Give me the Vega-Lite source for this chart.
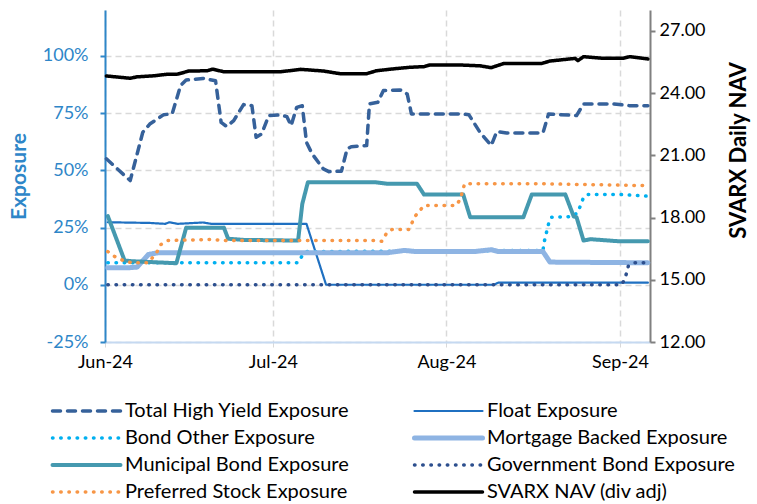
{
  "$schema": "https://vega.github.io/schema/vega-lite/v6.json",
  "width": 545,
  "height": 332,
  "autosize": {"type": "none"},
  "padding": {"left": 105, "top": 10, "right": 107, "bottom": 162},
  "background": "white",
  "config": {"font": "Lato", "view": {"stroke": null}},
  "data": {"values": [
    {"d": "2024-06-01T06:00", "s": "Total High Yield Exposure", "v": 0.55},
    {"d": "2024-06-05T12:00", "s": "Total High Yield Exposure", "v": 0.455},
    {"d": "2024-06-07T18:00", "s": "Total High Yield Exposure", "v": 0.666},
    {"d": "2024-06-09T00:00", "s": "Total High Yield Exposure", "v": 0.702},
    {"d": "2024-06-11T12:00", "s": "Total High Yield Exposure", "v": 0.743},
    {"d": "2024-06-13T00:00", "s": "Total High Yield Exposure", "v": 0.746},
    {"d": "2024-06-14T12:00", "s": "Total High Yield Exposure", "v": 0.87},
    {"d": "2024-06-15T12:00", "s": "Total High Yield Exposure", "v": 0.894},
    {"d": "2024-06-18T12:00", "s": "Total High Yield Exposure", "v": 0.901},
    {"d": "2024-06-20T18:00", "s": "Total High Yield Exposure", "v": 0.891},
    {"d": "2024-06-21T18:00", "s": "Total High Yield Exposure", "v": 0.709},
    {"d": "2024-06-22T18:00", "s": "Total High Yield Exposure", "v": 0.691},
    {"d": "2024-06-24T00:00", "s": "Total High Yield Exposure", "v": 0.717},
    {"d": "2024-06-25T18:00", "s": "Total High Yield Exposure", "v": 0.787},
    {"d": "2024-06-27T06:00", "s": "Total High Yield Exposure", "v": 0.782},
    {"d": "2024-06-28T00:00", "s": "Total High Yield Exposure", "v": 0.644},
    {"d": "2024-06-29T00:00", "s": "Total High Yield Exposure", "v": 0.659},
    {"d": "2024-06-30T06:00", "s": "Total High Yield Exposure", "v": 0.739},
    {"d": "2024-07-02T12:00", "s": "Total High Yield Exposure", "v": 0.742},
    {"d": "2024-07-03T12:00", "s": "Total High Yield Exposure", "v": 0.734},
    {"d": "2024-07-04T06:00", "s": "Total High Yield Exposure", "v": 0.695},
    {"d": "2024-07-05T06:00", "s": "Total High Yield Exposure", "v": 0.775},
    {"d": "2024-07-06T06:00", "s": "Total High Yield Exposure", "v": 0.782},
    {"d": "2024-07-07T00:00", "s": "Total High Yield Exposure", "v": 0.622},
    {"d": "2024-07-08T00:00", "s": "Total High Yield Exposure", "v": 0.572},
    {"d": "2024-07-10T00:00", "s": "Total High Yield Exposure", "v": 0.506},
    {"d": "2024-07-11T00:00", "s": "Total High Yield Exposure", "v": 0.494},
    {"d": "2024-07-13T06:00", "s": "Total High Yield Exposure", "v": 0.496},
    {"d": "2024-07-14T06:00", "s": "Total High Yield Exposure", "v": 0.593},
    {"d": "2024-07-15T00:00", "s": "Total High Yield Exposure", "v": 0.603},
    {"d": "2024-07-17T18:00", "s": "Total High Yield Exposure", "v": 0.608},
    {"d": "2024-07-18T06:00", "s": "Total High Yield Exposure", "v": 0.79},
    {"d": "2024-07-19T18:00", "s": "Total High Yield Exposure", "v": 0.797},
    {"d": "2024-07-20T18:00", "s": "Total High Yield Exposure", "v": 0.848},
    {"d": "2024-07-23T18:00", "s": "Total High Yield Exposure", "v": 0.851},
    {"d": "2024-07-25T00:00", "s": "Total High Yield Exposure", "v": 0.833},
    {"d": "2024-07-25T18:00", "s": "Total High Yield Exposure", "v": 0.746},
    {"d": "2024-08-03T18:00", "s": "Total High Yield Exposure", "v": 0.746},
    {"d": "2024-08-05T00:00", "s": "Total High Yield Exposure", "v": 0.743},
    {"d": "2024-08-07T00:00", "s": "Total High Yield Exposure", "v": 0.666},
    {"d": "2024-08-09T00:00", "s": "Total High Yield Exposure", "v": 0.608},
    {"d": "2024-08-10T00:00", "s": "Total High Yield Exposure", "v": 0.669},
    {"d": "2024-08-11T18:00", "s": "Total High Yield Exposure", "v": 0.663},
    {"d": "2024-08-18T06:00", "s": "Total High Yield Exposure", "v": 0.663},
    {"d": "2024-08-19T06:00", "s": "Total High Yield Exposure", "v": 0.746},
    {"d": "2024-08-24T06:00", "s": "Total High Yield Exposure", "v": 0.739},
    {"d": "2024-08-25T12:00", "s": "Total High Yield Exposure", "v": 0.79},
    {"d": "2024-08-30T18:00", "s": "Total High Yield Exposure", "v": 0.79},
    {"d": "2024-09-02T18:00", "s": "Total High Yield Exposure", "v": 0.782},
    {"d": "2024-09-06T00:00", "s": "Total High Yield Exposure", "v": 0.782},

    {"d": "2024-06-01T12:00", "s": "Float Exposure", "v": 0.273},
    {"d": "2024-06-09T00:00", "s": "Float Exposure", "v": 0.27},
    {"d": "2024-06-11T18:00", "s": "Float Exposure", "v": 0.266},
    {"d": "2024-06-12T12:00", "s": "Float Exposure", "v": 0.273},
    {"d": "2024-06-14T00:00", "s": "Float Exposure", "v": 0.266},
    {"d": "2024-06-18T12:00", "s": "Float Exposure", "v": 0.272},
    {"d": "2024-06-20T00:00", "s": "Float Exposure", "v": 0.266},
    {"d": "2024-07-07T00:00", "s": "Float Exposure", "v": 0.266},
    {"d": "2024-07-10T12:00", "s": "Float Exposure", "v": 0.0},
    {"d": "2024-08-09T12:00", "s": "Float Exposure", "v": 0.0},
    {"d": "2024-08-10T06:00", "s": "Float Exposure", "v": 0.009},
    {"d": "2024-09-06T00:00", "s": "Float Exposure", "v": 0.009},

    {"d": "2024-06-01T12:00", "s": "Bond Other Exposure", "v": 0.096},
    {"d": "2024-07-05T12:00", "s": "Bond Other Exposure", "v": 0.096},
    {"d": "2024-07-06T06:00", "s": "Bond Other Exposure", "v": 0.128},
    {"d": "2024-07-07T00:00", "s": "Bond Other Exposure", "v": 0.145},
    {"d": "2024-08-18T06:00", "s": "Bond Other Exposure", "v": 0.15},
    {"d": "2024-08-18T12:00", "s": "Bond Other Exposure", "v": 0.19},
    {"d": "2024-08-19T06:00", "s": "Bond Other Exposure", "v": 0.266},
    {"d": "2024-08-19T18:00", "s": "Bond Other Exposure", "v": 0.295},
    {"d": "2024-08-23T12:00", "s": "Bond Other Exposure", "v": 0.298},
    {"d": "2024-08-24T12:00", "s": "Bond Other Exposure", "v": 0.317},
    {"d": "2024-08-25T12:00", "s": "Bond Other Exposure", "v": 0.382},
    {"d": "2024-08-26T06:00", "s": "Bond Other Exposure", "v": 0.394},
    {"d": "2024-09-01T06:00", "s": "Bond Other Exposure", "v": 0.394},
    {"d": "2024-09-06T00:00", "s": "Bond Other Exposure", "v": 0.387},

    {"d": "2024-06-01T12:00", "s": "Mortgage Backed Exposure", "v": 0.074},
    {"d": "2024-06-05T00:00", "s": "Mortgage Backed Exposure", "v": 0.074},
    {"d": "2024-06-06T18:00", "s": "Mortgage Backed Exposure", "v": 0.077},
    {"d": "2024-06-08T18:00", "s": "Mortgage Backed Exposure", "v": 0.132},
    {"d": "2024-06-10T12:00", "s": "Mortgage Backed Exposure", "v": 0.14},
    {"d": "2024-07-21T12:00", "s": "Mortgage Backed Exposure", "v": 0.14},
    {"d": "2024-07-24T12:00", "s": "Mortgage Backed Exposure", "v": 0.15},
    {"d": "2024-07-26T12:00", "s": "Mortgage Backed Exposure", "v": 0.145},
    {"d": "2024-08-06T00:00", "s": "Mortgage Backed Exposure", "v": 0.145},
    {"d": "2024-08-09T00:00", "s": "Mortgage Backed Exposure", "v": 0.153},
    {"d": "2024-08-10T06:00", "s": "Mortgage Backed Exposure", "v": 0.145},
    {"d": "2024-08-18T06:00", "s": "Mortgage Backed Exposure", "v": 0.145},
    {"d": "2024-08-19T12:00", "s": "Mortgage Backed Exposure", "v": 0.099},
    {"d": "2024-09-06T00:00", "s": "Mortgage Backed Exposure", "v": 0.096},

    {"d": "2024-06-01T12:00", "s": "Municipal Bond Exposure", "v": 0.3},
    {"d": "2024-06-04T12:00", "s": "Municipal Bond Exposure", "v": 0.106},
    {"d": "2024-06-05T18:00", "s": "Municipal Bond Exposure", "v": 0.103},
    {"d": "2024-06-13T18:00", "s": "Municipal Bond Exposure", "v": 0.094},
    {"d": "2024-06-15T12:00", "s": "Municipal Bond Exposure", "v": 0.249},
    {"d": "2024-06-22T06:00", "s": "Municipal Bond Exposure", "v": 0.249},
    {"d": "2024-06-23T00:00", "s": "Municipal Bond Exposure", "v": 0.201},
    {"d": "2024-06-25T18:00", "s": "Municipal Bond Exposure", "v": 0.196},
    {"d": "2024-07-05T12:00", "s": "Municipal Bond Exposure", "v": 0.193},
    {"d": "2024-07-06T06:00", "s": "Municipal Bond Exposure", "v": 0.353},
    {"d": "2024-07-07T06:00", "s": "Municipal Bond Exposure", "v": 0.448},
    {"d": "2024-07-19T06:00", "s": "Municipal Bond Exposure", "v": 0.448},
    {"d": "2024-07-21T12:00", "s": "Municipal Bond Exposure", "v": 0.441},
    {"d": "2024-07-26T18:00", "s": "Municipal Bond Exposure", "v": 0.441},
    {"d": "2024-07-28T00:00", "s": "Municipal Bond Exposure", "v": 0.394},
    {"d": "2024-08-04T00:00", "s": "Municipal Bond Exposure", "v": 0.394},
    {"d": "2024-08-05T06:00", "s": "Municipal Bond Exposure", "v": 0.295},
    {"d": "2024-08-14T18:00", "s": "Municipal Bond Exposure", "v": 0.295},
    {"d": "2024-08-16T06:00", "s": "Municipal Bond Exposure", "v": 0.394},
    {"d": "2024-08-22T06:00", "s": "Municipal Bond Exposure", "v": 0.394},
    {"d": "2024-08-23T18:00", "s": "Municipal Bond Exposure", "v": 0.298},
    {"d": "2024-08-24T06:00", "s": "Municipal Bond Exposure", "v": 0.295},
    {"d": "2024-08-25T12:00", "s": "Municipal Bond Exposure", "v": 0.193},
    {"d": "2024-08-26T18:00", "s": "Municipal Bond Exposure", "v": 0.199},
    {"d": "2024-08-31T18:00", "s": "Municipal Bond Exposure", "v": 0.19},
    {"d": "2024-09-06T00:00", "s": "Municipal Bond Exposure", "v": 0.19},

    {"d": "2024-06-01T12:00", "s": "Government Bond Exposure", "v": 0.0},
    {"d": "2024-09-01T06:00", "s": "Government Bond Exposure", "v": 0.0},
    {"d": "2024-09-01T18:00", "s": "Government Bond Exposure", "v": 0.019},
    {"d": "2024-09-02T06:00", "s": "Government Bond Exposure", "v": 0.055},
    {"d": "2024-09-02T12:00", "s": "Government Bond Exposure", "v": 0.081},
    {"d": "2024-09-03T12:00", "s": "Government Bond Exposure", "v": 0.096},
    {"d": "2024-09-06T00:00", "s": "Government Bond Exposure", "v": 0.096},

    {"d": "2024-06-01T12:00", "s": "Preferred Stock Exposure", "v": 0.145},
    {"d": "2024-06-02T18:00", "s": "Preferred Stock Exposure", "v": 0.123},
    {"d": "2024-06-04T06:00", "s": "Preferred Stock Exposure", "v": 0.106},
    {"d": "2024-06-05T18:00", "s": "Preferred Stock Exposure", "v": 0.096},
    {"d": "2024-06-08T18:00", "s": "Preferred Stock Exposure", "v": 0.096},
    {"d": "2024-06-10T06:00", "s": "Preferred Stock Exposure", "v": 0.142},
    {"d": "2024-06-11T00:00", "s": "Preferred Stock Exposure", "v": 0.176},
    {"d": "2024-06-12T06:00", "s": "Preferred Stock Exposure", "v": 0.193},
    {"d": "2024-06-19T18:00", "s": "Preferred Stock Exposure", "v": 0.198},
    {"d": "2024-06-22T18:00", "s": "Preferred Stock Exposure", "v": 0.193},
    {"d": "2024-07-19T06:00", "s": "Preferred Stock Exposure", "v": 0.193},
    {"d": "2024-07-20T12:00", "s": "Preferred Stock Exposure", "v": 0.19},
    {"d": "2024-07-21T06:00", "s": "Preferred Stock Exposure", "v": 0.223},
    {"d": "2024-07-22T06:00", "s": "Preferred Stock Exposure", "v": 0.241},
    {"d": "2024-07-25T06:00", "s": "Preferred Stock Exposure", "v": 0.241},
    {"d": "2024-07-25T18:00", "s": "Preferred Stock Exposure", "v": 0.266},
    {"d": "2024-07-26T12:00", "s": "Preferred Stock Exposure", "v": 0.302},
    {"d": "2024-07-28T00:00", "s": "Preferred Stock Exposure", "v": 0.346},
    {"d": "2024-08-02T18:00", "s": "Preferred Stock Exposure", "v": 0.346},
    {"d": "2024-08-03T12:00", "s": "Preferred Stock Exposure", "v": 0.375},
    {"d": "2024-08-04T06:00", "s": "Preferred Stock Exposure", "v": 0.441},
    {"d": "2024-08-18T00:00", "s": "Preferred Stock Exposure", "v": 0.441},
    {"d": "2024-09-06T00:00", "s": "Preferred Stock Exposure", "v": 0.433},

    {"d": "2024-06-01T06:00", "s": "SVARX NAV (div adj)", "v": 24.82},
    {"d": "2024-06-05T12:00", "s": "SVARX NAV (div adj)", "v": 24.71},
    {"d": "2024-06-06T18:00", "s": "SVARX NAV (div adj)", "v": 24.78},
    {"d": "2024-06-09T18:00", "s": "SVARX NAV (div adj)", "v": 24.83},
    {"d": "2024-06-12T00:00", "s": "SVARX NAV (div adj)", "v": 24.9},
    {"d": "2024-06-14T00:00", "s": "SVARX NAV (div adj)", "v": 24.91},
    {"d": "2024-06-16T00:00", "s": "SVARX NAV (div adj)", "v": 25.06},
    {"d": "2024-06-19T06:00", "s": "SVARX NAV (div adj)", "v": 25.07},
    {"d": "2024-06-20T06:00", "s": "SVARX NAV (div adj)", "v": 25.15},
    {"d": "2024-06-22T06:00", "s": "SVARX NAV (div adj)", "v": 25.02},
    {"d": "2024-07-02T06:00", "s": "SVARX NAV (div adj)", "v": 25.02},
    {"d": "2024-07-06T00:00", "s": "SVARX NAV (div adj)", "v": 25.14},
    {"d": "2024-07-10T00:00", "s": "SVARX NAV (div adj)", "v": 25.06},
    {"d": "2024-07-13T00:00", "s": "SVARX NAV (div adj)", "v": 24.93},
    {"d": "2024-07-17T18:00", "s": "SVARX NAV (div adj)", "v": 24.93},
    {"d": "2024-07-19T12:00", "s": "SVARX NAV (div adj)", "v": 25.07},
    {"d": "2024-07-22T00:00", "s": "SVARX NAV (div adj)", "v": 25.15},
    {"d": "2024-07-25T12:00", "s": "SVARX NAV (div adj)", "v": 25.24},
    {"d": "2024-07-28T00:00", "s": "SVARX NAV (div adj)", "v": 25.27},
    {"d": "2024-07-29T00:00", "s": "SVARX NAV (div adj)", "v": 25.35},
    {"d": "2024-08-03T12:00", "s": "SVARX NAV (div adj)", "v": 25.35},
    {"d": "2024-08-07T00:00", "s": "SVARX NAV (div adj)", "v": 25.31},
    {"d": "2024-08-09T00:00", "s": "SVARX NAV (div adj)", "v": 25.22},
    {"d": "2024-08-11T06:00", "s": "SVARX NAV (div adj)", "v": 25.42},
    {"d": "2024-08-18T00:00", "s": "SVARX NAV (div adj)", "v": 25.42},
    {"d": "2024-08-19T12:00", "s": "SVARX NAV (div adj)", "v": 25.54},
    {"d": "2024-08-23T00:00", "s": "SVARX NAV (div adj)", "v": 25.64},
    {"d": "2024-08-24T00:00", "s": "SVARX NAV (div adj)", "v": 25.67},
    {"d": "2024-08-24T12:00", "s": "SVARX NAV (div adj)", "v": 25.56},
    {"d": "2024-08-25T12:00", "s": "SVARX NAV (div adj)", "v": 25.75},
    {"d": "2024-08-29T00:00", "s": "SVARX NAV (div adj)", "v": 25.67},
    {"d": "2024-09-01T12:00", "s": "SVARX NAV (div adj)", "v": 25.67},
    {"d": "2024-09-02T18:00", "s": "SVARX NAV (div adj)", "v": 25.75},
    {"d": "2024-09-06T00:00", "s": "SVARX NAV (div adj)", "v": 25.64}
  ]},
  "encoding": {
    "x": {
      "field": "d", "type": "temporal",
      "scale": {"domain": [{"year": 2024, "month": 6, "date": 1}, {"year": 2024, "month": 9, "date": 6, "hours": 9}]},
      "axis": {
        "title": null,
        "values": [{"year": 2024, "month": 6, "date": 1}, {"year": 2024, "month": 7, "date": 1}, {"year": 2024, "month": 8, "date": 1}, {"year": 2024, "month": 9, "date": 1}],
        "format": "%b-%y",
        "labelFlush": false,
        "labelOverlap": false,
        "labelFontSize": 18,
        "labelColor": "#000000",
        "labelPadding": 6,
        "domainColor": "#C5D9F1",
        "domainWidth": 2,
        "ticks": true,
        "tickSize": 5,
        "tickColor": "#D9D9D9",
        "grid": true,
        "gridColor": "#D9D9D9",
        "gridDash": [6, 4],
        "gridWidth": 1.5
      }
    },
    "color": {
      "field": "s", "type": "nominal",
      "scale": {
        "domain": ["Total High Yield Exposure", "Float Exposure", "Bond Other Exposure", "Mortgage Backed Exposure", "Municipal Bond Exposure", "Government Bond Exposure", "Preferred Stock Exposure", "SVARX NAV (div adj)"],
        "range": ["#36619A", "#1F70C1", "#00B0F0", "#8EB4E3", "#4599AF", "#2D4F8E", "#F79646", "#000000"]
      },
      "legend": {"title": null, "orient": "none", "direction": "horizontal", "legendX": -55, "legendY": 391, "columns": 2, "columnPadding": 62, "rowPadding": 7, "clipHeight": 20, "symbolType": "stroke", "symbolSize": 4624, "labelFontSize": 20, "labelColor": "#000000", "labelOffset": 2, "labelLimit": 400, "encoding": {"symbols": {"strokeCap": {"value": "round"}}}}
    },
    "strokeDash": {
      "field": "s", "type": "nominal",
      "scale": {
        "domain": ["Total High Yield Exposure", "Float Exposure", "Bond Other Exposure", "Mortgage Backed Exposure", "Municipal Bond Exposure", "Government Bond Exposure", "Preferred Stock Exposure", "SVARX NAV (div adj)"],
        "range": [[8, 7], [1, 0], [0.5, 7.7], [1, 0], [1, 0], [0.5, 7.7], [0.5, 7.7], [1, 0]]
      },
      "legend": {"title": null, "orient": "none", "direction": "horizontal", "legendX": -55, "legendY": 391, "columns": 2, "columnPadding": 62, "rowPadding": 7, "clipHeight": 20, "symbolType": "stroke", "symbolSize": 4624, "labelFontSize": 20, "labelColor": "#000000", "labelOffset": 2, "labelLimit": 400, "encoding": {"symbols": {"strokeCap": {"value": "round"}}}}
    },
    "strokeWidth": {
      "field": "s", "type": "nominal",
      "scale": {
        "type": "ordinal",
        "domain": ["Total High Yield Exposure", "Float Exposure", "Bond Other Exposure", "Mortgage Backed Exposure", "Municipal Bond Exposure", "Government Bond Exposure", "Preferred Stock Exposure", "SVARX NAV (div adj)"],
        "range": [3.5, 2.2, 3.5, 5, 4, 3.5, 3.5, 3.5]
      },
      "legend": {"title": null, "orient": "none", "direction": "horizontal", "legendX": -55, "legendY": 391, "columns": 2, "columnPadding": 62, "rowPadding": 7, "clipHeight": 20, "symbolType": "stroke", "symbolSize": 4624, "labelFontSize": 20, "labelColor": "#000000", "labelOffset": 2, "labelLimit": 400, "encoding": {"symbols": {"strokeCap": {"value": "round"}}}}
    }
  },
  "layer": [
    {
      "transform": [{"filter": "datum.s !== 'SVARX NAV (div adj)'"}],
      "mark": {"type": "line", "strokeCap": "round", "strokeJoin": "round"},
      "encoding": {
        "y": {
          "field": "v", "type": "quantitative",
          "scale": {"domain": [-0.25, 1.2], "nice": false, "zero": false},
          "axis": {
            "orient": "left",
            "values": [-0.25, 0, 0.25, 0.5, 0.75, 1],
            "format": ".0%",
            "labelExpr": "replace(datum.label, '\u2212', '-')",
            "title": "Exposure",
            "titleFontSize": 21,
            "titleFontWeight": "bold",
            "titleColor": "#2E86C8",
            "titleX": -86,
            "titleY": 166,
            "titleAngle": 270,
            "titleAlign": "center",
            "titleBaseline": "middle",
            "labelFontSize": 18,
            "labelColor": "#2E86C8",
            "labelPadding": 12,
            "domainColor": "#2E86C8",
            "domainWidth": 2,
            "tickColor": "#2E86C8",
            "tickWidth": 2,
            "tickSize": 5,
            "grid": true,
            "gridColor": "#D9D9D9",
            "gridDash": [6, 4],
            "gridWidth": 1.5
          }
        }
      }
    },
    {
      "transform": [{"filter": "datum.s === 'SVARX NAV (div adj)'"}],
      "mark": {"type": "line", "strokeCap": "round", "strokeJoin": "round"},
      "encoding": {
        "y": {
          "field": "v", "type": "quantitative",
          "scale": {"domain": [12, 28], "nice": false, "zero": false},
          "axis": {
            "orient": "right",
            "values": [12, 15, 18, 21, 24, 27],
            "format": ".2f",
            "title": "SVARX Daily NAV",
            "titleAngle": 270,
            "titleX": 88,
            "titleY": 140,
            "titleAlign": "center",
            "titleBaseline": "middle",
            "titleFontSize": 22,
            "titleFontWeight": "bold",
            "titleColor": "#000000",
            "labelFontSize": 18,
            "labelColor": "#000000",
            "labelPadding": 4,
            "domainColor": "#808080",
            "domainWidth": 2,
            "tickColor": "#808080",
            "tickWidth": 2,
            "tickSize": 5,
            "grid": false
          }
        }
      }
    }
  ],
  "resolve": {"scale": {"y": "independent"}}
}
